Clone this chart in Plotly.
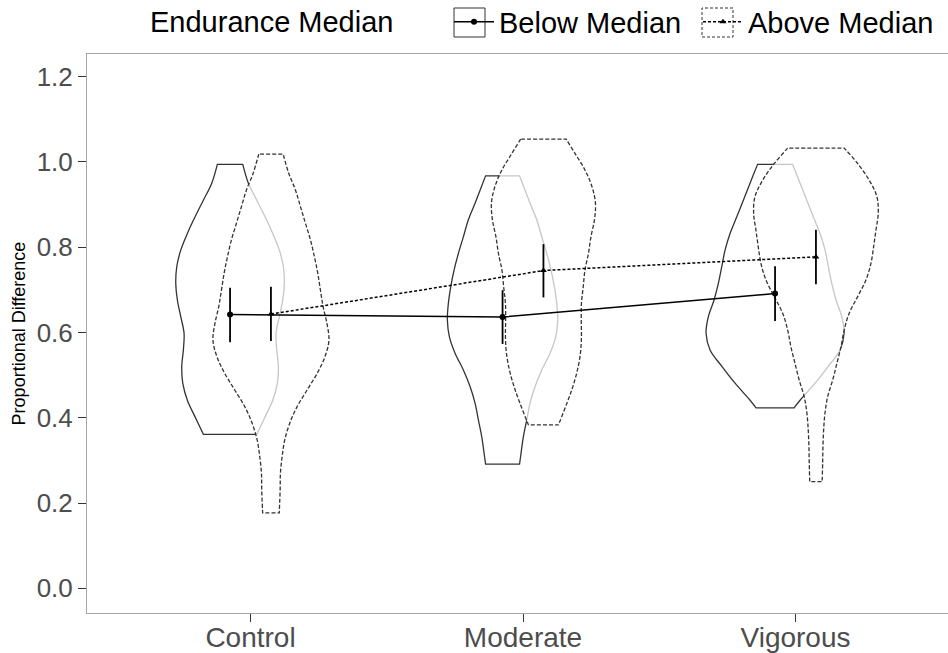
import plotly.graph_objects as go

# ---------------- data ----------------
categories = ["Control", "Moderate", "Vigorous"]
cat_pos = [1, 2, 3]
legend_title = "Endurance Median"
group_names = ["Below Median", "Above Median"]

below_mean = [0.642, 0.636, 0.691]
below_lo = [0.577, 0.573, 0.627]
below_hi = [0.705, 0.699, 0.755]

above_mean = [0.643, 0.745, 0.777]
above_lo = [0.580, 0.682, 0.713]
above_hi = [0.707, 0.807, 0.841]

y_ticks = [0, 0.2, 0.4, 0.6, 0.8, 1.0, 1.2]
y_tick_labels = ["0.0", "0.2", "0.4", "0.6", "0.8", "1.0", "1.2"]

# violin density profiles (value grid, relative density)
ctrl_below_y = [0.361, 0.402, 0.441, 0.481, 0.520, 0.559, 0.598, 0.637, 0.676, 0.715,
                0.754, 0.793, 0.832, 0.871, 0.910, 0.950, 0.994]
ctrl_below_d = [26.7, 35, 42.7, 47.3, 48.3, 46.7, 46, 49.3, 52.7, 54.3,
                53.3, 49.3, 42.7, 35, 26.7, 18.3, 12.7]

ctrl_above_y = [0.177, 0.230, 0.270, 0.309, 0.348, 0.387, 0.426, 0.465, 0.504, 0.543,
                0.582, 0.621, 0.660, 0.699, 0.739, 0.777, 0.817, 0.856, 0.895, 0.934,
                0.973, 1.018]
ctrl_above_d = [8.3, 9.2, 9.5, 11.2, 13.8, 18.8, 26.2, 36.2, 46.2, 54,
                58, 56, 52.2, 49.5, 46.8, 43.5, 39.5, 34.5, 29.5, 24.5,
                17.8, 12.2]

mod_below_y = [0.291, 0.317, 0.355, 0.395, 0.434, 0.473, 0.512, 0.551, 0.590, 0.629,
               0.668, 0.707, 0.746, 0.785, 0.824, 0.864, 0.903, 0.967]
mod_below_d = [17, 18.5, 20.8, 24.2, 27.5, 32.5, 39.2, 47.5, 53.2, 55.2,
               54.2, 51.8, 48.5, 44.2, 39.2, 34.2, 27.5, 17]

mod_above_y = [0.383, 0.434, 0.473, 0.512, 0.551, 0.590, 0.629, 0.668, 0.707, 0.746,
               0.785, 0.824, 0.864, 0.903, 0.942, 0.981, 1.020, 1.053]
mod_above_d = [15, 23.5, 29.4, 34, 37, 38, 37.8, 38, 39.8, 41.5,
               45, 47.5, 51, 52, 48.5, 41.5, 31.5, 22.8]

vig_below_y = [0.423, 0.441, 0.481, 0.520, 0.559, 0.598, 0.637, 0.676, 0.715, 0.754,
               0.793, 0.832, 0.871, 0.910, 0.950, 0.994]
vig_below_d = [19, 25, 40, 53, 65, 69, 66.7, 61, 56.7, 53.3,
               50, 45, 38.3, 31.7, 25, 17.5]

vig_above_y = [0.250, 0.293, 0.332, 0.371, 0.410, 0.449, 0.488, 0.528, 0.566, 0.606,
               0.645, 0.684, 0.723, 0.762, 0.801, 0.840, 0.879, 0.918, 0.957, 0.996,
               1.032]
vig_above_d = [6.2, 6.7, 7, 7.7, 9, 11.7, 16.7, 21, 25, 28.3,
               33.3, 41.7, 50, 55, 57.7, 60, 62.3, 61, 53.3, 41.7,
               28.3]

below_profiles = [(ctrl_below_y, ctrl_below_d), (mod_below_y, mod_below_d), (vig_below_y, vig_below_d)]
above_profiles = [(ctrl_above_y, ctrl_above_d), (mod_above_y, mod_above_d), (vig_above_y, vig_above_d)]

# ---------------- styling ----------------
W, H = 948, 653
ML, MR, MT, MB = 87, 0, 54, 40
PW, PH = W - ML - MR, H - MT - MB
DODGE = 0.075
PX_PER_UNIT = 272.5
DENS_SCALE = 1 / PX_PER_UNIT
FONT = "Liberation Sans, Arial, Helvetica, sans-serif"
OUTLINE = "#333333"


def px_to_paper_x(px):
    return (px - ML) / PW


def px_to_paper_y(py):
    return (H - MB - py) / PH


def violin_path(center, ys, ds):
    left = [(center - d * DENS_SCALE, y) for y, d in zip(reversed(ys), reversed(ds))]
    right = [(center + d * DENS_SCALE, y) for y, d in zip(ys, ds)]
    pts = [left[0]] + left + [left[-1]] + [right[0]] + right + [right[-1]] + [left[0], left[0]]
    return [p[0] for p in pts], [p[1] for p in pts]


fig = go.Figure()

for i, c in enumerate(cat_pos):
    by, bd = below_profiles[i]
    x, y = violin_path(c - DODGE, by, bd)
    fig.add_trace(go.Scatter(x=x, y=y, mode="lines", fill="toself",
                             fillcolor="rgba(255,255,255,1)",
                             line=dict(color=OUTLINE, width=1.3, shape="spline", smoothing=1),
                             showlegend=False, hoverinfo="skip"))
    ay, ad = above_profiles[i]
    x, y = violin_path(c + DODGE, ay, ad)
    fig.add_trace(go.Scatter(x=x, y=y, mode="lines", fill="toself",
                             fillcolor="rgba(255,255,255,0.72)",
                             line=dict(color=OUTLINE, width=1.3, dash="4px,2px",
                                       shape="spline", smoothing=1),
                             showlegend=False, hoverinfo="skip"))

below_x = [c - DODGE for c in cat_pos]
above_x = [c + DODGE for c in cat_pos]

fig.add_trace(go.Scatter(
    x=below_x, y=below_mean, mode="lines+markers", name=group_names[0],
    line=dict(color="black", width=1.5),
    marker=dict(symbol="circle", size=6, color="black"),
    error_y=dict(type="data", symmetric=False,
                 array=[h - m for h, m in zip(below_hi, below_mean)],
                 arrayminus=[m - l for l, m in zip(below_lo, below_mean)],
                 width=0, thickness=1.8, color="black"),
))
fig.add_trace(go.Scatter(
    x=above_x, y=above_mean, mode="lines+markers", name=group_names[1],
    line=dict(color="black", width=1.5, dash="3px,2px"),
    marker=dict(symbol="triangle-up", size=6, color="black"),
    error_y=dict(type="data", symmetric=False,
                 array=[h - m for h, m in zip(above_hi, above_mean)],
                 arrayminus=[m - l for l, m in zip(above_lo, above_mean)],
                 width=0, thickness=1.8, color="black"),
))

# legend title as text and key boxes (ggplot-style legend keys)
fig.add_annotation(text=legend_title, xref="paper", yref="paper",
                   x=px_to_paper_x(149), y=px_to_paper_y(22), xanchor="left", yanchor="middle",
                   showarrow=False, borderpad=0,
                   font=dict(size=29, family=FONT, color="black"))
for bx0 in (454, 702):
    fig.add_shape(type="rect", xref="paper", yref="paper",
                  x0=px_to_paper_x(bx0), x1=px_to_paper_x(bx0 + 31),
                  y0=px_to_paper_y(37), y1=px_to_paper_y(8),
                  line=dict(color="#333333", width=1, dash="solid" if bx0 == 454 else "3px,2px"),
                  fillcolor="rgba(0,0,0,0)")

fig.update_layout(
    width=W, height=H,
    margin=dict(l=ML, r=MR, t=MT, b=MB, autoexpand=False),
    plot_bgcolor="white", paper_bgcolor="white",
    font=dict(family=FONT, color="black"),
    showlegend=True,
    legend=dict(orientation="h", x=px_to_paper_x(449), xanchor="left",
                y=px_to_paper_y(22), yanchor="middle",
                font=dict(size=29, family=FONT, color="black"),
                bgcolor="rgba(0,0,0,0)", itemwidth=40,
                entrywidth=194, entrywidthmode="pixels"),
)
fig.update_xaxes(range=[0.4, 0.4 + PW / PX_PER_UNIT], tickvals=cat_pos, ticktext=categories,
                 automargin=False,
                 showline=True, linecolor="#a6a6a6", linewidth=1, mirror=True,
                 ticks="outside", ticklen=8, tickcolor="#333333", tickwidth=1,
                 ticklabelstandoff=-9,
                 tickfont=dict(size=28, family=FONT, color="#4d4d4d"),
                 showgrid=False, zeroline=False)
fig.update_yaxes(range=[-0.0579, 1.2528], tickvals=y_ticks, ticktext=y_tick_labels,
                 automargin=False,
                 showline=True, linecolor="#a6a6a6", linewidth=1, mirror=False,
                 ticks="outside", ticklen=8, tickcolor="#333333", tickwidth=1,
                 tickfont=dict(size=26, family=FONT, color="#4d4d4d"),
                 title=dict(text="Proportional Difference", font=dict(size=18, family=FONT, color="black"),
                            standoff=6),
                 showgrid=False, zeroline=False)

# remove the default 8px page margin so the figure fills the window exactly
fig.write_html("out.html", config={"displayModeBar": False},
               post_script="document.body.style.margin='0px';")
